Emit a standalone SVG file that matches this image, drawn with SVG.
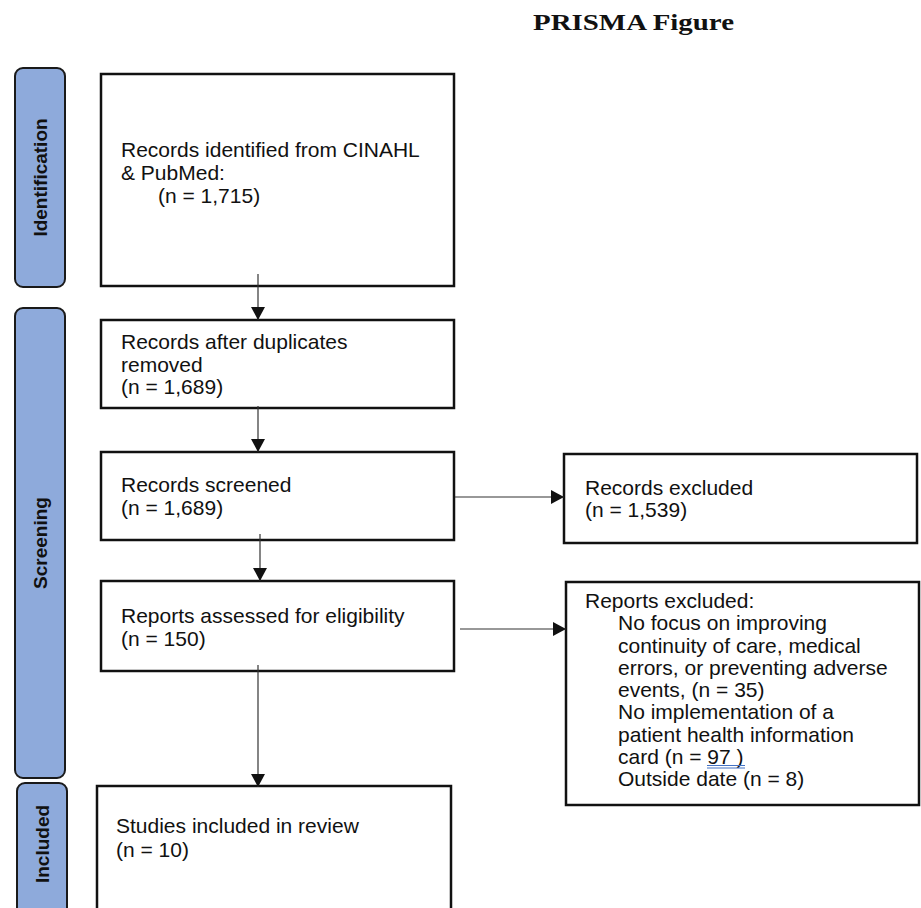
<svg xmlns="http://www.w3.org/2000/svg" width="921" height="908" viewBox="0 0 921 908">
  <style>
    .box { fill: #ffffff; stroke: #111111; stroke-width: 2.5; }
    .phase { fill: #8eaadb; stroke: #1a1a1a; stroke-width: 2; }
    .phase-label { font-family: "Liberation Sans", Arial, sans-serif; font-weight: bold; font-size: 19px; fill: #111111; text-anchor: middle; }
    .txt { font-family: "Liberation Sans", Arial, sans-serif; font-size: 21px; fill: #111111; }
    .title { font-family: "Liberation Serif", "Times New Roman", serif; font-weight: bold; font-size: 24px; fill: #111111; }
    .link { stroke: #333333; stroke-width: 1.2; fill: none; marker-end: url(#arrow); }
    .squiggle { stroke: #4472c4; stroke-width: 1; }
  </style>
  <defs>
    <marker id="arrow" markerUnits="userSpaceOnUse" markerWidth="14" markerHeight="14" refX="13" refY="7" orient="auto">
      <path d="M0,0 L13,7 L0,14 Z" fill="#111111"/>
    </marker>
  </defs>

  <rect width="921" height="908" fill="#ffffff"/>

  <text class="title" x="533" y="30" textLength="201" lengthAdjust="spacingAndGlyphs">PRISMA Figure</text>

  <!-- phase bars -->
  <g id="phase-identification">
    <rect class="phase" x="15" y="68" width="50" height="219" rx="8"/>
    <text class="phase-label" transform="translate(47,177.5) rotate(-90)">Identification</text>
  </g>
  <g id="phase-screening">
    <rect class="phase" x="15" y="308" width="50" height="470" rx="8"/>
    <text class="phase-label" transform="translate(47,543) rotate(-90)">Screening</text>
  </g>
  <g id="phase-included">
    <rect class="phase" x="17" y="783" width="50" height="140" rx="8"/>
    <text class="phase-label" transform="translate(49,844) rotate(-90)">Included</text>
  </g>

  <!-- flow boxes -->
  <g id="identified">
    <rect class="box" x="101" y="74" width="353" height="212"/>
    <text class="txt" x="121" y="157">Records identified from CINAHL</text>
    <text class="txt" x="121" y="180">&amp; PubMed:</text>
    <text class="txt" x="158" y="203">(n = 1,715)</text>
  </g>
  <g id="deduplicated">
    <rect class="box" x="101" y="320" width="353" height="88"/>
    <text class="txt" x="121" y="349">Records after duplicates</text>
    <text class="txt" x="121" y="372">removed</text>
    <text class="txt" x="121" y="394">(n = 1,689)</text>
  </g>
  <g id="screened">
    <rect class="box" x="101" y="452" width="353" height="88"/>
    <text class="txt" x="121" y="492">Records screened</text>
    <text class="txt" x="121" y="515">(n = 1,689)</text>
  </g>
  <g id="records-excluded">
    <rect class="box" x="564" y="454" width="353" height="89"/>
    <text class="txt" x="585" y="495">Records excluded</text>
    <text class="txt" x="585" y="517">(n = 1,539)</text>
  </g>
  <g id="assessed">
    <rect class="box" x="101" y="581" width="353" height="90"/>
    <text class="txt" x="121" y="623">Reports assessed for eligibility</text>
    <text class="txt" x="121" y="646">(n = 150)</text>
  </g>
  <g id="reports-excluded">
    <rect class="box" x="566" y="582" width="353" height="223"/>
    <text class="txt" x="585" y="608">Reports excluded:</text>
    <text class="txt" x="618" y="630">No focus on improving</text>
    <text class="txt" x="618" y="652.5">continuity of care, medical</text>
    <text class="txt" x="618" y="675">errors, or preventing adverse</text>
    <text class="txt" x="618" y="697">events, (n = 35)</text>
    <text class="txt" x="618" y="719">No implementation of a</text>
    <text class="txt" x="618" y="741.5">patient health information</text>
    <text class="txt" x="618" y="763.5">card (n = 97 )</text>
    <line class="squiggle" x1="707" y1="765.5" x2="745" y2="765.5"/>
    <line class="squiggle" x1="707" y1="768" x2="745" y2="768"/>
    <text class="txt" x="618" y="786">Outside date (n = 8)</text>
  </g>
  <g id="included">
    <rect class="box" x="97" y="786" width="354" height="140"/>
    <text class="txt" x="116" y="833">Studies included in review</text>
    <text class="txt" x="116" y="857">(n = 10)</text>
  </g>

  <!-- connectors -->
  <g id="connectors">
    <line class="link" x1="258" y1="274" x2="258" y2="320"/>
    <line class="link" x1="258" y1="406" x2="258" y2="452"/>
    <line class="link" x1="260" y1="534" x2="260" y2="581"/>
    <line class="link" x1="258" y1="665" x2="258" y2="787"/>
    <line class="link" x1="455" y1="497" x2="564" y2="497"/>
    <line class="link" x1="460" y1="629" x2="566" y2="629"/>
  </g>
</svg>
